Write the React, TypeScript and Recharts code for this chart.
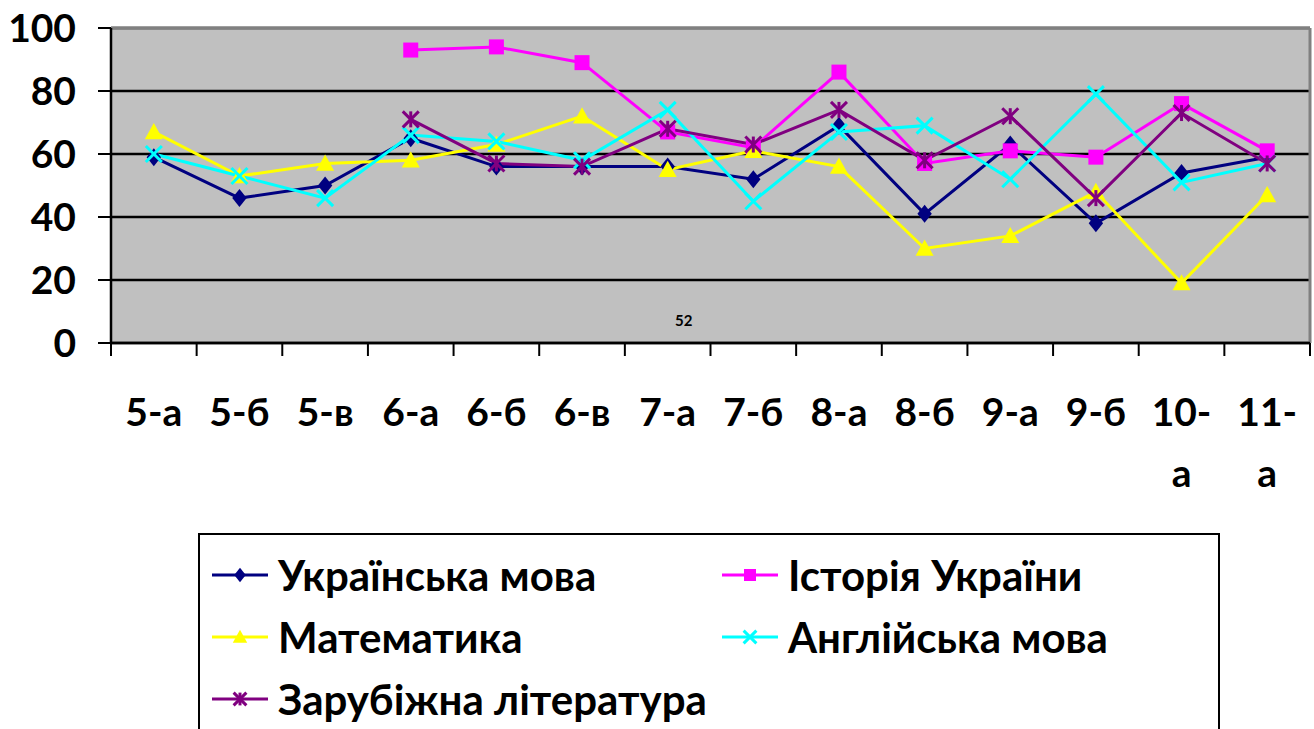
import React from 'react';
import { LineChart, Line, XAxis, YAxis, CartesianGrid, ReferenceLine } from 'recharts';

// classes and average scores per subject
const categories = ['5-а', '5-б', '5-в', '6-а', '6-б', '6-в', '7-а', '7-б', '8-а', '8-б', '9-а', '9-б', '10-а', '11-а'];
const ukrMova = [59, 46, 50, 65, 56, 56, 56, 52, 69, 41, 63, 38, 54, 59];
const istoriya = [null, null, null, 93, 94, 89, 67, 62, 86, 57, 61, 59, 76, 61];
const matem = [67, 53, 57, 58, 63, 72, 55, 61, 56, 30, 34, 48, 19, 47];
const angl = [60, 53, 46, 66, 64, 58, 74, 45, 67, 69, 52, 79, 51, 57];
const zarub = [null, null, null, 71, 57, 56, 68, 63, 74, 58, 72, 46, 73, 57];
const yTicks = [0, 20, 40, 60, 80, 100];

const series = [
  { key: 'ukr', name: 'Українська мова', color: '#000080', shape: 'diamond', values: ukrMova },
  { key: 'ist', name: 'Історія України', color: '#FF00FF', shape: 'square', values: istoriya },
  { key: 'mat', name: 'Математика', color: '#FFFF00', shape: 'triangle', values: matem },
  { key: 'ang', name: 'Англійська мова', color: '#00FFFF', shape: 'cross', values: angl },
  { key: 'zar', name: 'Зарубіжна література', color: '#800080', shape: 'star', values: zarub },
];

const data = categories.map((c, i) => {
  const row: any = { name: c };
  series.forEach((s) => {
    row[s.key] = s.values[i];
  });
  return row;
});

const FONT = 'Lato, "Noto Sans", sans-serif';
const PLOT_LEFT = 111;
const PLOT_RIGHT = 1310;
const BAND = (PLOT_RIGHT - PLOT_LEFT) / categories.length;

const Marker = ({ shape, color, cx, cy, s = 1 }: any) => {
  if (shape === 'diamond') {
    const r = 9 * s;
    return <polygon points={`${cx},${cy - r} ${cx + r * 0.8},${cy} ${cx},${cy + r} ${cx - r * 0.8},${cy}`} fill={color} />;
  }
  if (shape === 'square') {
    const r = 7.5 * s;
    return <rect x={cx - r} y={cy - r} width={r * 2} height={r * 2} fill={color} />;
  }
  if (shape === 'triangle') {
    const r = 9 * s;
    return <polygon points={`${cx},${cy - r} ${cx + r},${cy + r * 0.8} ${cx - r},${cy + r * 0.8}`} fill={color} />;
  }
  if (shape === 'cross') {
    const r = 8 * s;
    return (
      <g stroke={color} strokeWidth={3}>
        <line x1={cx - r} y1={cy - r} x2={cx + r} y2={cy + r} />
        <line x1={cx - r} y1={cy + r} x2={cx + r} y2={cy - r} />
      </g>
    );
  }
  const r = 8 * s;
  return (
    <g stroke={color} strokeWidth={3}>
      <line x1={cx - r} y1={cy - r} x2={cx + r} y2={cy + r} />
      <line x1={cx - r} y1={cy + r} x2={cx + r} y2={cy - r} />
      <line x1={cx} y1={cy - r} x2={cx} y2={cy + r} />
    </g>
  );
};

const makeDot = (shape: string, color: string) => (props: any) => {
  const { cx, cy, value, index } = props;
  if (value == null || cx == null || cy == null) return <g key={index} />;
  return (
    <g key={index}>
      <Marker shape={shape} color={color} cx={cx} cy={cy} />
    </g>
  );
};

const XTick = (props: any) => {
  const { x, y, payload, index } = props;
  const label: string = payload.value;
  const cut = label.indexOf('-') + 1;
  const lines = label.length > 3 ? [label.slice(0, cut), label.slice(cut)] : [label];
  const left = x - BAND / 2;
  return (
    <g>
      <line x1={left} y1={y} x2={left} y2={y + 13} stroke="#000" strokeWidth={2} />
      {index === categories.length - 1 && (
        <line x1={x + BAND / 2} y1={y} x2={x + BAND / 2} y2={y + 13} stroke="#000" strokeWidth={2} />
      )}
      {lines.map((l, i) => (
        <text key={i} x={x} y={y + 83 + i * 61} textAnchor="middle" fontFamily={FONT} fontWeight={700} fontSize={39} fill="#000">
          {l}
        </text>
      ))}
    </g>
  );
};

const LegendBox = () => (
  <div
    style={{
      position: 'absolute',
      left: 198,
      top: 533,
      width: 1022,
      height: 230,
      border: '2px solid #000',
      background: '#fff',
      boxSizing: 'border-box',
    }}
  >
    {series.map((s, i) => {
      const col = i % 2;
      const row = Math.floor(i / 2);
      return (
        <div
          key={s.key}
          style={{
            position: 'absolute',
            left: col === 0 ? 12 : 522,
            top: 40 + row * 62 - 26,
            height: 52,
            display: 'flex',
            alignItems: 'center',
          }}
        >
          <svg width={58} height={24} style={{ marginRight: 8 }}>
            <line x1={0} y1={12} x2={56} y2={12} stroke={s.color} strokeWidth={3} />
            <Marker shape={s.shape} color={s.color} cx={28} cy={12} s={0.8} />
          </svg>
          <span style={{ fontFamily: FONT, fontWeight: 700, fontSize: 42, lineHeight: '52px', color: '#000', whiteSpace: 'nowrap' }}>{s.name}</span>
        </div>
      );
    })}
  </div>
);

export default function App() {
  return (
    <div style={{ position: 'absolute', left: 0, top: 0, width: 1314, height: 729, background: '#fff', overflow: 'hidden' }}>
      <LineChart width={1314} height={729} data={data} margin={{ top: 28, right: 4, left: 0, bottom: 246 }}>
        <CartesianGrid vertical={false} fill="#C0C0C0" stroke="#000" strokeWidth={2.5} strokeOpacity={1} />
        <CartesianGrid horizontal={false} verticalPoints={[PLOT_RIGHT]} stroke="#808080" strokeWidth={3} strokeOpacity={1} />
        <ReferenceLine y={100} stroke="#808080" strokeWidth={3} />
        <XAxis
          dataKey="name"
          height={140}
          interval={0}
          padding={{ left: BAND / 2, right: BAND / 2 }}
          tickLine={false}
          tickSize={0}
          tickMargin={0}
          axisLine={{ stroke: '#000', strokeWidth: 2.5 }}
          tick={<XTick />}
        />
        <YAxis
          width={111}
          domain={[0, 100]}
          ticks={yTicks}
          interval={0}
          tickSize={13}
          tickMargin={22}
          axisLine={{ stroke: '#000', strokeWidth: 2.5 }}
          tickLine={{ stroke: '#000', strokeWidth: 2 }}
          tick={{ fontFamily: FONT, fontWeight: 700, fontSize: 39, fill: '#000' }}
        />
        {series.map((s) => (
          <Line
            key={s.key}
            dataKey={s.key}
            name={s.name}
            stroke={s.color}
            strokeWidth={3}
            dot={makeDot(s.shape, s.color)}
            activeDot={false}
            connectNulls={false}
            isAnimationActive={false}
          />
        ))}
      </LineChart>
      <div style={{ position: 'absolute', left: 675, top: 311, fontFamily: FONT, fontWeight: 700, fontSize: 15, color: '#000' }}>52</div>
      <LegendBox />
    </div>
  );
}
